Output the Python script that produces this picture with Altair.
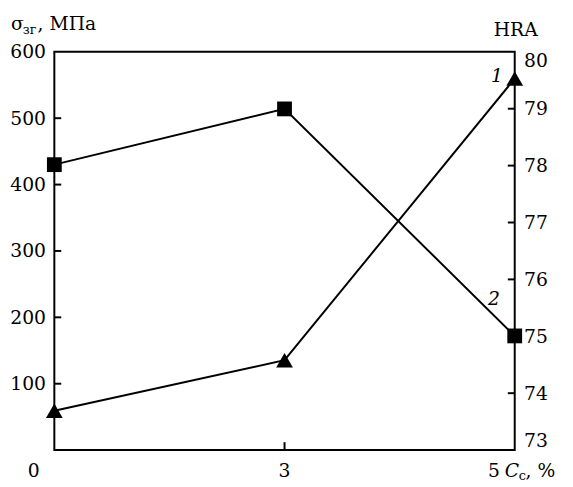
import altair as alt
import pandas as pd

# ---- data ----
x_vals = [0, 3, 5]
x_labels = ["0", "3", "5"]
sigma_vals = [430, 514, 172]          # squares, curve 2 (left axis, MPa)
hra_vals = [73.69, 74.58, 79.53]      # triangles, curve 1 (right axis, HRA)
left_tick_vals = [100, 200, 300, 400, 500]
left_label_vals = [100, 200, 300, 400, 500, 600]
right_tick_vals = [74, 75, 76, 77, 78, 79]
right_label_vals = [73, 74, 75, 76, 77, 78, 79, 80]

W, H = 467, 404
FONT = "DejaVu Serif"
FS = 19
SUB = 13

xscale = alt.Scale(type="point", domain=x_vals, padding=0)


def X():
    return alt.X("x:O", scale=xscale, axis=None)


def Yleft(field):
    return alt.Y(
        f"{field}:Q",
        scale=alt.Scale(domain=[0, 600], nice=False, zero=False),
        axis=alt.Axis(orient="left", values=left_label_vals, domain=False, ticks=False,
                      grid=False, labelFont=FONT, labelFontSize=FS, labelColor="black",
                      labelPadding=9, labelFlush=False, title=None),
    )


def Yright(field):
    return alt.Y(
        f"{field}:Q",
        scale=alt.Scale(domain=[73, 80], nice=False, zero=False),
        axis=alt.Axis(orient="right", values=right_label_vals, domain=False, ticks=False,
                      grid=False, labelFont=FONT, labelFontSize=FS, labelColor="black",
                      labelPadding=9, labelFlush=True, title=None),
    )


df = pd.DataFrame({"x": x_vals, "s": sigma_vals, "h": hra_vals})

# left group (squares)
l_line = alt.Chart(df).mark_line(color="black", strokeWidth=2).encode(x=X(), y=Yleft("s"))
l_pts = alt.Chart(df).mark_point(shape="square", filled=True, size=225, opacity=1,
                                 color="black").encode(x=X(), y=Yleft("s"))
l_ticks = alt.Chart(pd.DataFrame({"s": left_tick_vals})).mark_rule(
    color="black", strokeWidth=2).encode(y=Yleft("s"), x=alt.value(0), x2=alt.value(7))
x_tick = alt.Chart(pd.DataFrame({"x": [3]})).mark_rule(color="black", strokeWidth=2).encode(
    x=X(), y=alt.value(H), y2=alt.value(H - 8))
left_group = alt.layer(l_line, l_ticks, x_tick, l_pts)

# right group (triangles)
r_line = alt.Chart(df).mark_line(color="black", strokeWidth=2).encode(x=X(), y=Yright("h"))
r_pts = alt.Chart(df).mark_point(shape="triangle-up", filled=True, size=289, opacity=1,
                                 color="black").encode(x=X(), y=Yright("h"))
r_ticks = alt.Chart(pd.DataFrame({"h": right_tick_vals})).mark_rule(
    color="black", strokeWidth=2).encode(y=Yright("h"), x=alt.value(W), x2=alt.value(W - 7))
right_group = alt.layer(r_line, r_ticks, r_pts)


def txt(s, x, y, size=FS, italic=False, align="left", baseline="alphabetic", dx=0):
    return alt.Chart(pd.DataFrame({"t": [s]})).mark_text(
        font=FONT, fontSize=size, fontStyle="italic" if italic else "normal",
        align=align, baseline=baseline, color="black", dx=dx,
    ).encode(x=alt.value(x), y=alt.value(y), text="t:N")


# x tick labels through the x scale
x_offsets = [-21, 0, -21]
xlab_layers = []
for v, lab, off in zip(x_vals, x_labels, x_offsets):
    xlab_layers.append(
        alt.Chart(pd.DataFrame({"x": [v], "t": [lab]})).mark_text(
            font=FONT, fontSize=FS, align="center", baseline="alphabetic",
            color="black", dx=off,
        ).encode(x=X(), y=alt.value(H + 27), text="t:N")
    )

annotations = [
    txt("σ", -44, -22),
    txt("зг", -32, -18, size=SUB),
    txt(", МПа", -17, -22),
    txt("HRA", W + 1, -16, align="center"),
    txt("C", W - 10, H + 27, italic=True),
    txt("c", W + 4, H + 30, size=SUB),
    txt(", %", W + 11, H + 27),
    txt("1", W - 18, 31, italic=True, align="center"),
    txt("2", W - 21, 257, italic=True, align="center"),
]

chart = alt.layer(left_group, right_group, *xlab_layers, *annotations).resolve_scale(
    y="independent"
).properties(
    width=W, height=H,
    autosize=alt.AutoSizeParams(type="none"),
    padding={"left": 47, "top": 41, "right": 51, "bottom": 34},
    background="white",
).configure_view(stroke="black", strokeWidth=2)

chart.save("out.html", embed_options={"renderer": "svg", "actions": False})
